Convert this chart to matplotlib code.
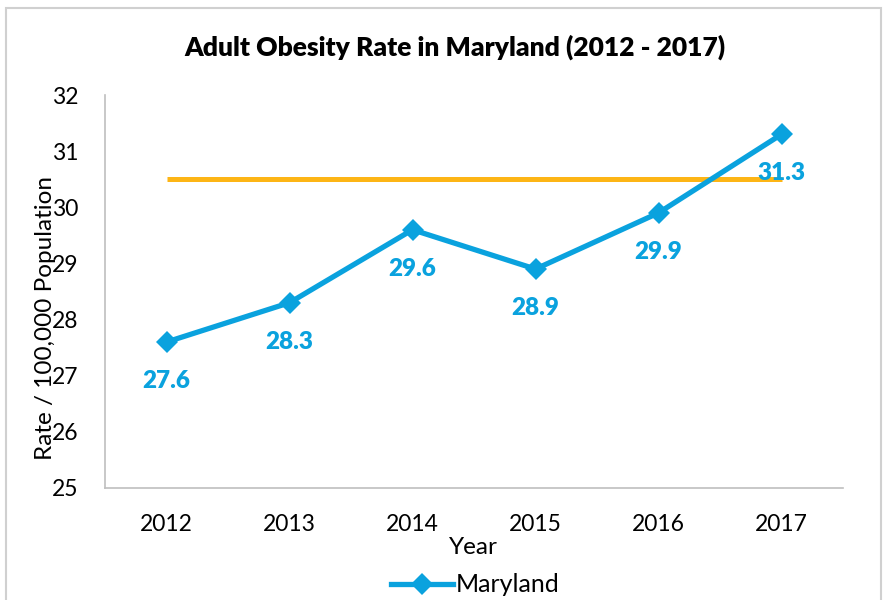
import matplotlib
matplotlib.use("Agg")
import matplotlib.pyplot as plt
from matplotlib.patches import Rectangle

years = ["2012", "2013", "2014", "2015", "2016", "2017"]
maryland = [27.6, 28.3, 29.6, 28.9, 29.9, 31.3]
target = [30.5, 30.5, 30.5, 30.5, 30.5, 30.5]
yticks = [25, 26, 27, 28, 29, 30, 31, 32]

BLUE = "#0AA2DE"
ORANGE = "#FDB515"
FONT = ["Lato", "DejaVu Sans"]
plt.rcParams['font.family'] = FONT

W, H = 888, 600
fig = plt.figure(figsize=(W/100, H/100), dpi=100)
ax = fig.add_axes([105/W, 1-488/H, (843-105)/W, (488-95)/H])

x = list(range(len(years)))
ax.plot(x, target, color=ORANGE, lw=3.6, solid_capstyle='butt', zorder=2)
ax.plot(x, maryland, color=BLUE, lw=3.8, marker='D', markersize=11,
        markeredgewidth=0, label="Maryland", zorder=3)
for xi, v in zip(x, maryland):
    ax.annotate(f"{v}", (xi, v), xytext=(0, -28), textcoords='offset points',
                ha='center', va='center', color=BLUE, fontsize=17.5,
                fontweight='heavy', zorder=4)

ax.set_xlim(-0.5, len(years)-0.5)
ax.set_ylim(25, 32)
ax.set_yticks(yticks)
ax.set_xticks(x)
ax.set_xticklabels(years)
ax.tick_params(axis='both', length=0, labelsize=16.5, colors='black')
ax.tick_params(axis='x', pad=19)
ax.tick_params(axis='y', pad=19)
for s in ['top', 'right']:
    ax.spines[s].set_visible(False)
for s in ['left', 'bottom']:
    ax.spines[s].set_color('#BFBFBF')
    ax.spines[s].set_linewidth(1.2)

fig.text(455/W, 1-47/H, "Adult Obesity Rate in Maryland (2012 - 2017)",
         ha='center', va='center', fontsize=19, fontweight='heavy')
fig.text(473/W, 1-548/H, "Year", ha='center', va='center', fontsize=17.5)
fig.text(45/W, 1-318/H, "Rate / 100,000 Population", ha='center', va='center',
         rotation=90, fontsize=17.5)

fig.legend(loc='center', bbox_to_anchor=(475/W, 1-585/H), frameon=False,
           fontsize=18, handlelength=2.5, handletextpad=0.1)

fig.patches.append(Rectangle((6/W, -0.1), (881-6)/W, 1.1-8/H,
                             transform=fig.transFigure, fill=False,
                             edgecolor='#D0D0D0', lw=1.5))

fig.savefig("out.png", dpi=100)
